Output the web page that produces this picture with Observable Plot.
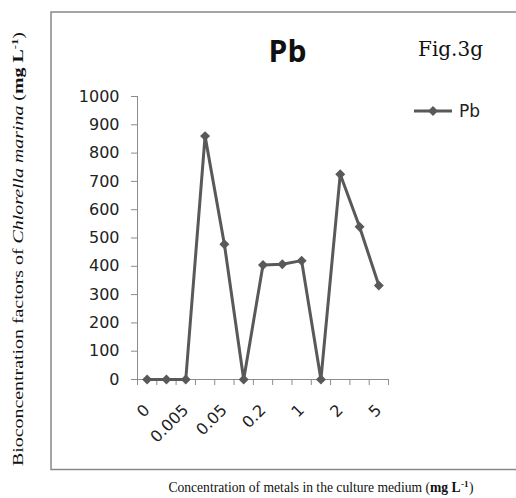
<!DOCTYPE html>
<html><head><meta charset="utf-8">
<script src="https://cdn.jsdelivr.net/npm/d3@7"></script>
<script src="https://cdn.jsdelivr.net/npm/@observablehq/plot@0.6"></script>
<style>
html,body{margin:0;padding:0;background:#fff;}
#wrap{position:relative;width:516px;height:498px;overflow:hidden;background:#fff;}
#wrap svg{position:absolute;left:0;top:0;}
</style></head><body><div id="wrap"></div>
<script>
// ---- data ----
const seriesName = "Pb";
const xLabels = ["0", "0.005", "0.05", "0.2", "1", "2", "5"]; // shown at every other point
const pbValues = [0, 0, 0, 860, 478, 0, 405, 407, 420, 0, 725, 540, 332];
const yTicks = [0, 100, 200, 300, 400, 500, 600, 700, 800, 900, 1000];
const titleText = "Pb";
const figText = "Fig.3g";

const W = 516, H = 498;
const lineColor = "#595959";
const axisColor = "#8c8c8c";

const idx = pbValues.map((_, i) => i);
const boundaries = d3.range(0, pbValues.length + 1).map(i => i - 0.5);
const labelTicks = xLabels.map((_, k) => 2 * k);

const chart = Plot.plot({
  width: W, height: H,
  marginLeft: 137, marginRight: 128, marginTop: 96, marginBottom: 119,
  style: {fontFamily: "DejaVu Sans, sans-serif", fontSize: "16px", color: "#222", background: "transparent"},
  x: {type: "linear", domain: [-0.5, pbValues.length - 0.5]},
  y: {domain: [0, 1000]},
  marks: [
    Plot.ruleY([0], {stroke: axisColor}),
    Plot.ruleX([-0.5], {stroke: axisColor}),
    Plot.axisY({ticks: yTicks, tickSize: 6, tickPadding: 12, stroke: axisColor, tickFormat: d => String(d), label: null}),
    Plot.axisX({ticks: boundaries, tickSize: 6, tickFormat: () => "", stroke: axisColor, label: null}),
    Plot.axisX({ticks: labelTicks, tickSize: 0, tickPadding: 28, tickRotate: -45,
                tickFormat: i => xLabels[Math.round(i / 2)], label: null}),
    Plot.line(pbValues, {x: (d, i) => idx[i], y: d => d, stroke: lineColor, strokeWidth: 3}),
    Plot.dot(pbValues, {x: (d, i) => idx[i], y: d => d, symbol: "diamond2", r: 4.5, fill: lineColor, stroke: "none"})
  ]
});
const wrap = document.getElementById("wrap");
wrap.appendChild(chart);

// ---- annotations overlay (frame, titles, legend, axis titles) ----
const ov = d3.create("svg").attr("width", W).attr("height", H).attr("viewBox", `0 0 ${W} ${H}`);
ov.append("rect").attr("x", 51).attr("y", 12).attr("width", 520).attr("height", 457.5)
  .attr("fill", "none").attr("stroke", "#888").attr("stroke-width", 1.5);

ov.append("text").attr("x", 287.5).attr("y", 62).attr("text-anchor", "middle")
  .attr("font-family", "Open Sans, sans-serif").attr("font-weight", "bold").attr("font-size", 30)
  .attr("fill", "#111").text(titleText);

ov.append("text").attr("x", 418).attr("y", 56)
  .attr("font-family", "DejaVu Serif, serif").attr("font-size", 20)
  .attr("fill", "#111").text(figText);

// legend
const lg = ov.append("g");
lg.append("line").attr("x1", 414).attr("x2", 452).attr("y1", 111).attr("y2", 111)
  .attr("stroke", lineColor).attr("stroke-width", 3);
lg.append("path").attr("d", d3.symbol(d3.symbolDiamond2, Math.PI * 4.5 * 4.5)())
  .attr("transform", "translate(433,111)").attr("fill", lineColor);
lg.append("text").attr("x", 459).attr("y", 117).attr("font-family", "DejaVu Sans, sans-serif")
  .attr("font-size", 17).attr("fill", "#222").text(seriesName);

// y axis title
const yt = ov.append("text").attr("transform", "translate(23,249) rotate(-90)")
  .attr("text-anchor", "middle").attr("font-family", "Liberation Serif, Times New Roman, serif")
  .attr("font-size", 14).attr("fill", "#111")
  .attr("textLength", 434).attr("lengthAdjust", "spacingAndGlyphs");
yt.append("tspan").text("Bioconcentration factors of ");
yt.append("tspan").attr("font-style", "italic").text("Chlorella marina");
yt.append("tspan").text(" (");
yt.append("tspan").attr("font-weight", "bold").text("mg L");
yt.append("tspan").attr("font-weight", "bold").attr("font-size", 9).attr("dy", -5).text("-1");
yt.append("tspan").attr("dy", 5).text(")");

// x axis title
const xt = ov.append("text").attr("x", 321).attr("y", 492)
  .attr("text-anchor", "middle").attr("font-family", "Liberation Serif, Times New Roman, serif")
  .attr("font-size", 13.6).attr("fill", "#111");
xt.append("tspan").text("Concentration of metals in the culture medium (");
xt.append("tspan").attr("font-weight", "bold").text("mg L");
xt.append("tspan").attr("font-weight", "bold").attr("font-size", 9).attr("dy", -5).attr("dx", 0.5).text("-1");
xt.append("tspan").attr("dy", 5).attr("dx", 0.5).text(")");

wrap.appendChild(ov.node());
</script>
</body></html>
